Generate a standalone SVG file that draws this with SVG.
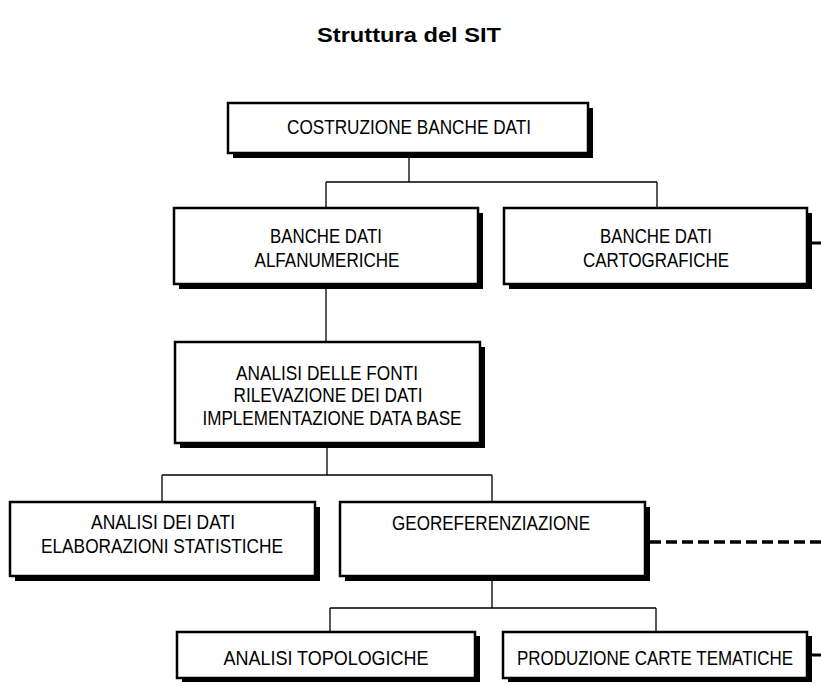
<svg xmlns="http://www.w3.org/2000/svg" width="821" height="686" viewBox="0 0 821 686">
  <style>
    .shadow { fill: #000; }
    .box { fill: #fff; stroke: #000; stroke-width: 2.5; }
    .lbl { font-family: "Liberation Sans Narrow", "Liberation Sans", Arial, sans-serif; font-size: 21px; fill: #000; text-anchor: middle; }
    .title { font-family: "Liberation Sans Narrow", "Liberation Sans", Arial, sans-serif; font-size: 20px; font-weight: bold; fill: #000; text-anchor: middle; }
    .conn { stroke: #000; stroke-width: 1.3; fill: none; }
    .stub { stroke: #000; stroke-width: 3; fill: none; }
    .dash { stroke: #000; stroke-width: 3.5; fill: none; stroke-dasharray: 11 5; }
  </style>

  <rect width="821" height="686" fill="#fff"/>

  <text class="title" x="409" y="42" textLength="184" lengthAdjust="spacingAndGlyphs">Struttura del SIT</text>

  <!-- connectors -->
  <g id="connectors">
    <path class="conn" d="M409 158 V182 M326 182 H657 M326 182 V208 M657 182 V208"/>
    <path class="conn" d="M326 289 V342"/>
    <path class="conn" d="M327 448 V475 M162 475 H492 M162 475 V502 M492 475 V502"/>
    <path class="conn" d="M492 581 V608 M330 608 H656 M330 608 V632 M656 608 V632"/>
    <path class="dash" d="M650 542 H821"/>
    <path class="stub" d="M812 243 H821"/>
    <path class="stub" d="M812 655 H821"/>
  </g>

  <g id="costruzione">
    <rect class="shadow" x="233" y="108" width="360" height="50"/>
    <rect class="box" x="228" y="103" width="360" height="50"/>
    <text class="lbl" x="409" y="134" textLength="244" lengthAdjust="spacingAndGlyphs">COSTRUZIONE BANCHE DATI</text>
  </g>

  <g id="alfanumeriche">
    <rect class="shadow" x="179" y="213" width="304" height="76"/>
    <rect class="box" x="174" y="208" width="304" height="76"/>
    <text class="lbl" x="326" y="243" textLength="112" lengthAdjust="spacingAndGlyphs">BANCHE DATI</text>
    <text class="lbl" x="327" y="267" textLength="145" lengthAdjust="spacingAndGlyphs">ALFANUMERICHE</text>
  </g>

  <g id="cartografiche">
    <rect class="shadow" x="509" y="213" width="303" height="76"/>
    <rect class="box" x="504" y="208" width="303" height="76"/>
    <text class="lbl" x="656" y="243" textLength="112" lengthAdjust="spacingAndGlyphs">BANCHE DATI</text>
    <text class="lbl" x="656" y="267" textLength="146" lengthAdjust="spacingAndGlyphs">CARTOGRAFICHE</text>
  </g>

  <g id="fonti">
    <rect class="shadow" x="180" y="347" width="305" height="101"/>
    <rect class="box" x="175" y="342" width="305" height="101"/>
    <text class="lbl" x="327" y="380" textLength="182" lengthAdjust="spacingAndGlyphs">ANALISI DELLE FONTI</text>
    <text class="lbl" x="328" y="402" textLength="189" lengthAdjust="spacingAndGlyphs">RILEVAZIONE DEI DATI</text>
    <text class="lbl" x="332" y="425" textLength="259" lengthAdjust="spacingAndGlyphs">IMPLEMENTAZIONE DATA BASE</text>
  </g>

  <g id="analisi-dati">
    <rect class="shadow" x="15" y="507" width="305" height="74"/>
    <rect class="box" x="10" y="502" width="305" height="74"/>
    <text class="lbl" x="163" y="529" textLength="144" lengthAdjust="spacingAndGlyphs">ANALISI DEI DATI</text>
    <text class="lbl" x="162" y="553" textLength="242" lengthAdjust="spacingAndGlyphs">ELABORAZIONI STATISTICHE</text>
  </g>

  <g id="georeferenziazione">
    <rect class="shadow" x="345" y="507" width="305" height="74"/>
    <rect class="box" x="340" y="502" width="305" height="74"/>
    <text class="lbl" x="491" y="530" textLength="198" lengthAdjust="spacingAndGlyphs">GEOREFERENZIAZIONE</text>
  </g>

  <g id="topologiche">
    <rect class="shadow" x="182" y="636" width="298" height="46"/>
    <rect class="box" x="177" y="632" width="298" height="46"/>
    <text class="lbl" x="326" y="665" textLength="205" lengthAdjust="spacingAndGlyphs">ANALISI TOPOLOGICHE</text>
  </g>

  <g id="carte-tematiche">
    <rect class="shadow" x="508" y="636" width="304" height="46"/>
    <rect class="box" x="503" y="632" width="304" height="46"/>
    <text class="lbl" x="655" y="665" textLength="276" lengthAdjust="spacingAndGlyphs">PRODUZIONE CARTE TEMATICHE</text>
  </g>
</svg>
